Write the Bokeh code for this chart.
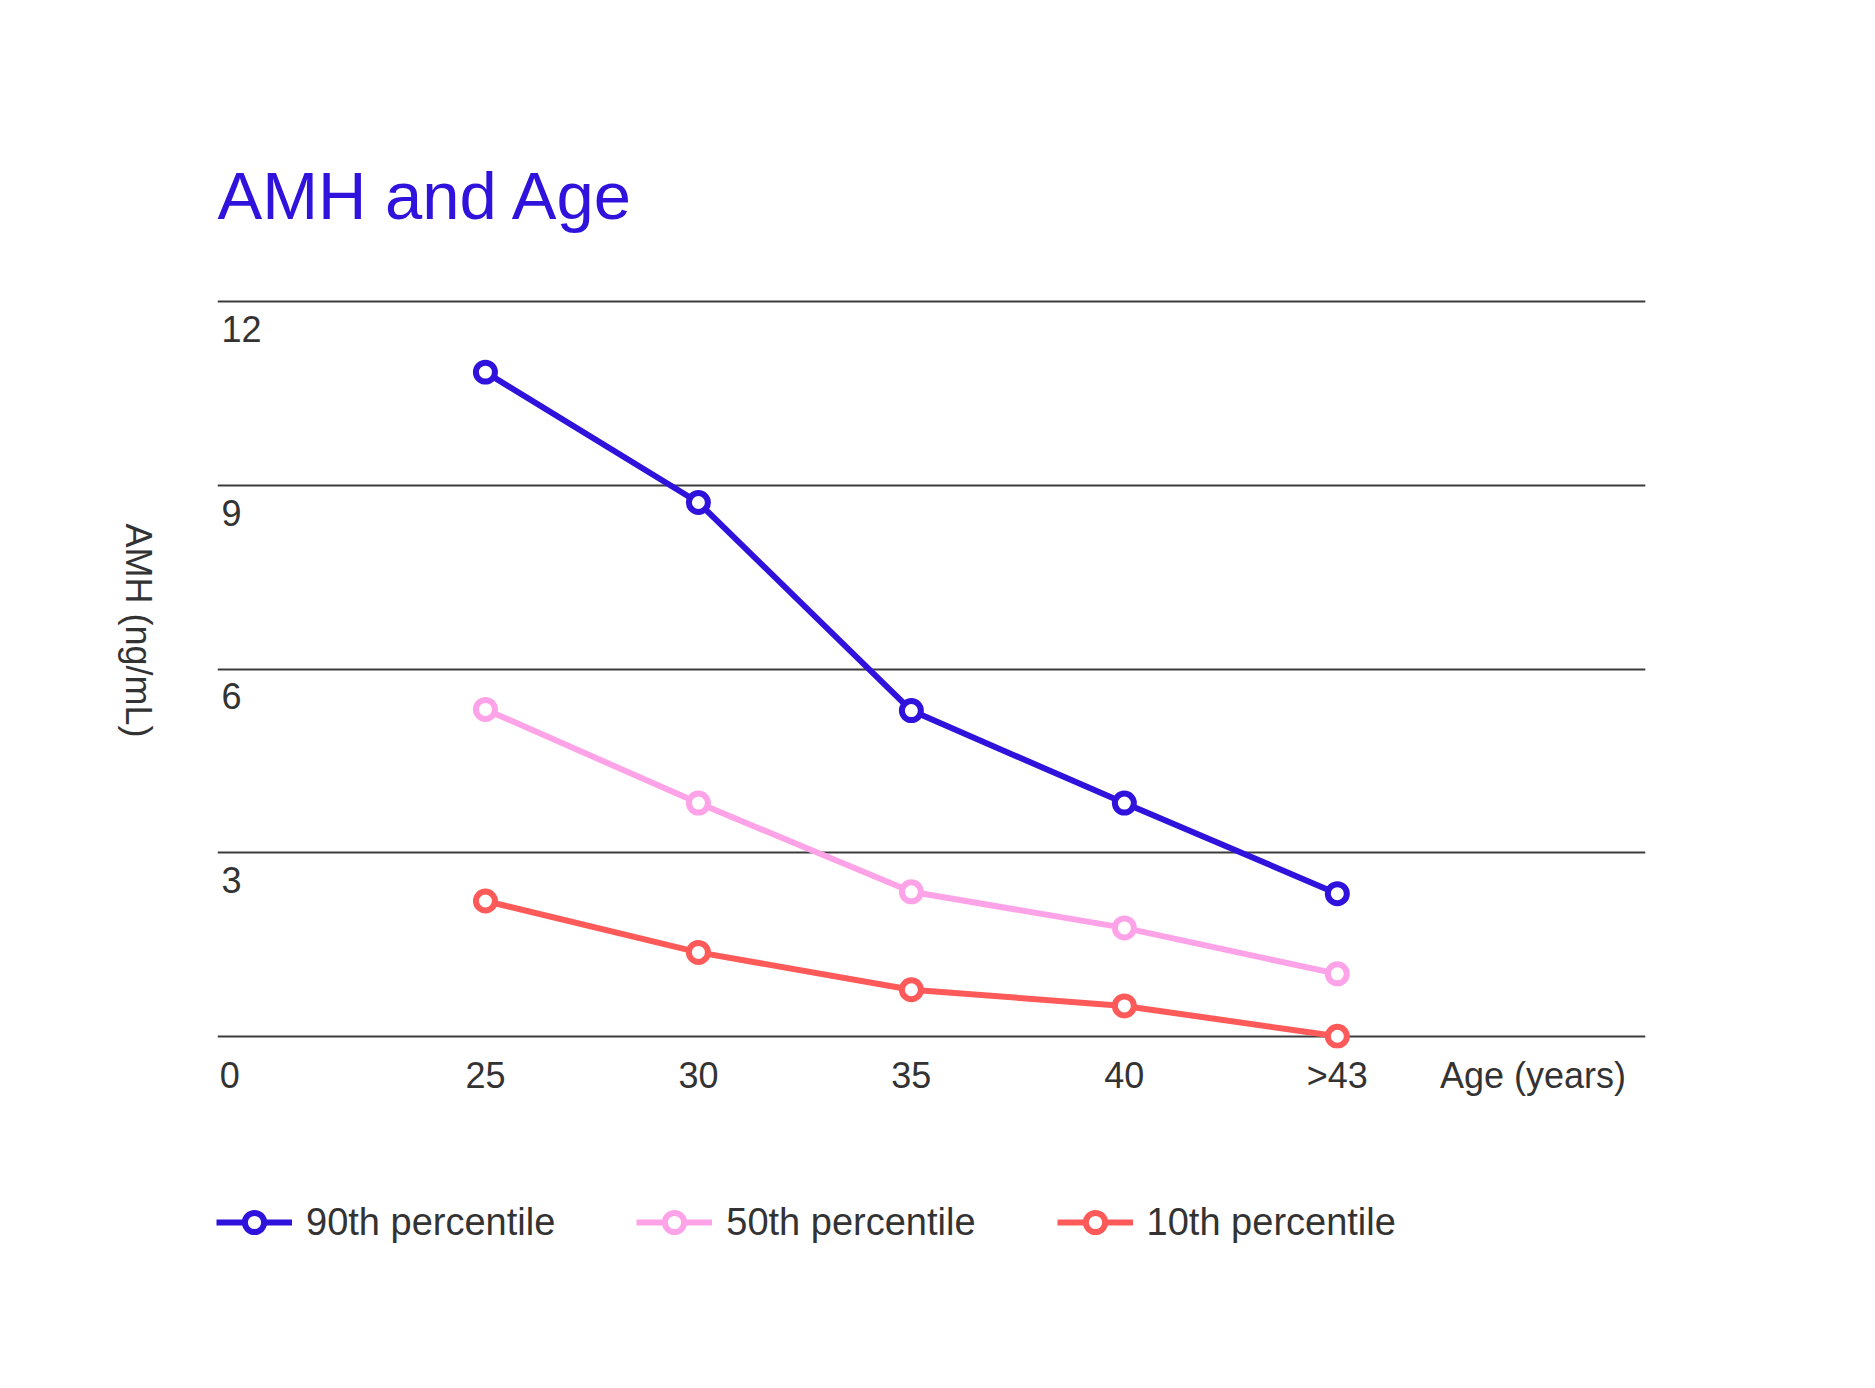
import math
from bokeh.plotting import figure
from bokeh.layouts import row, column
from bokeh.models import ColumnDataSource, FixedTicker, Legend, LegendItem
from bokeh.core.properties import value
from bokeh.embed import file_html
from bokeh.resources import INLINE

# ---- data ----
ages = ["25", "30", "35", "40", ">43"]
age_pos = [1, 2, 3, 4, 5]
p90 = [10.85, 8.72, 5.32, 3.81, 2.33]
p50 = [5.34, 3.81, 2.36, 1.77, 1.02]
p10 = [2.21, 1.37, 0.76, 0.495, 0.0]
series_names = ["90th percentile", "50th percentile", "10th percentile"]
series_colors = ["#2f12dc", "#ffa3e8", "#ff5a5a"]
y_grid_ticks = [0, 3, 6, 9, 12]
y_label_ticks = [12, 9, 6, 3]
y_tick_labels = ["12", "9", "6", "3"]
x_extra_labels = ["0", "Age (years)"]
y_title = "AMH (ng/mL)"

FONT = "Liberation Sans"
TEXT = "#333333"
W = 1859
H_MAIN = 1150
H_LEG = 222
TOP, BOTTOM = 289, 102
LEFT_W = 180
Y_RANGE = (-0.2, 12.2)

# ---- narrow left panel holding the rotated axis title ----
lp = figure(width=LEFT_W, height=H_MAIN, output_backend="svg", toolbar_location=None,
            x_range=(0, LEFT_W), y_range=Y_RANGE,
            x_axis_location=None, y_axis_location=None,
            min_border_left=0, min_border_right=0,
            min_border_top=TOP, min_border_bottom=BOTTOM)
lp.outline_line_color = None
lp.grid.visible = False
lp.text(x=[138], y=[6.63], text=[y_title], angle=-math.pi / 2,
        text_font=value(FONT), text_font_size="36px", text_color=TEXT,
        text_align="center", text_baseline="middle")

# ---- main chart ----
p = figure(width=W - LEFT_W, height=H_MAIN, output_backend="svg", toolbar_location=None,
           x_range=(-0.258, 6.447), y_range=Y_RANGE,
           min_border_left=217 - LEFT_W, min_border_right=214,
           min_border_top=TOP, min_border_bottom=BOTTOM)
p.outline_line_color = None

p.title.text = "AMH and Age"
p.title.text_font = FONT
p.title.text_font_size = "67px"
p.title.text_font_style = "normal"
p.title.text_color = "#2f12dc"
p.title.align = "left"
p.title.standoff = 114

p.xgrid.visible = False
p.ygrid.ticker = FixedTicker(ticks=y_grid_ticks)
p.ygrid.grid_line_color = "#3c3c3c"
p.ygrid.grid_line_width = 2

x_ticks = [-0.2] + age_pos + [5.919]
x_labels = [x_extra_labels[0]] + ages + [x_extra_labels[1]]
xa = p.xaxis[0]
xa.ticker = FixedTicker(ticks=x_ticks)
xa.major_label_overrides = {t: l for t, l in zip(x_ticks, x_labels)}
xa.axis_line_color = None
xa.major_tick_line_color = None
xa.minor_tick_line_color = None
xa.major_label_text_font = FONT
xa.major_label_text_font_size = "36px"
xa.major_label_text_color = TEXT
xa.major_label_standoff = 0

p.yaxis.visible = False

# y tick labels: left aligned, just below each grid line, inside the plot area
yl_off = 0.449
p.text(x=[-0.258] * len(y_label_ticks), y=[t - yl_off for t in y_label_ticks],
       text=y_tick_labels, x_offset=4,
       text_font=value(FONT), text_font_size="36px", text_color=TEXT,
       text_align="left", text_baseline="middle")

sources = []
for name, vals, col in zip(series_names, [p90, p50, p10], series_colors):
    src = ColumnDataSource(dict(x=age_pos, y=vals))
    sources.append(src)
    p.line("x", "y", source=src, line_color=col, line_width=6)
    p.scatter("x", "y", source=src, marker="circle", size=19,
              line_color=col, line_width=6, fill_color="white")

# ---- legend strip below the chart (its own view is scrolled away from the data) ----
lg = figure(width=W, height=H_LEG, output_backend="svg", toolbar_location=None,
            x_range=(-20, -19), y_range=(-20, -19),
            x_axis_location=None, y_axis_location=None,
            min_border_left=216, min_border_right=0,
            min_border_top=48, min_border_bottom=0)
lg.outline_line_color = None
lg.grid.visible = False
items = []
for name, src, col in zip(series_names, sources, series_colors):
    ln = lg.line("x", "y", source=src, line_color=col, line_width=6)
    sc = lg.scatter("x", "y", source=src, marker="circle", size=19,
                    line_color=col, line_width=6, fill_color="white")
    items.append(LegendItem(label=name, renderers=[ln, sc]))
legend = Legend(items=items, orientation="horizontal", location="top_left",
                glyph_width=76, glyph_height=48, label_standoff=14, spacing=81,
                padding=0, margin=0, border_line_color=None,
                background_fill_alpha=0,
                label_text_font=FONT, label_text_font_size="38px",
                label_text_color=TEXT)
lg.add_layout(legend, "center")

layout = column(row(lp, p), lg)
open("out.html", "w").write(file_html(layout, INLINE))
